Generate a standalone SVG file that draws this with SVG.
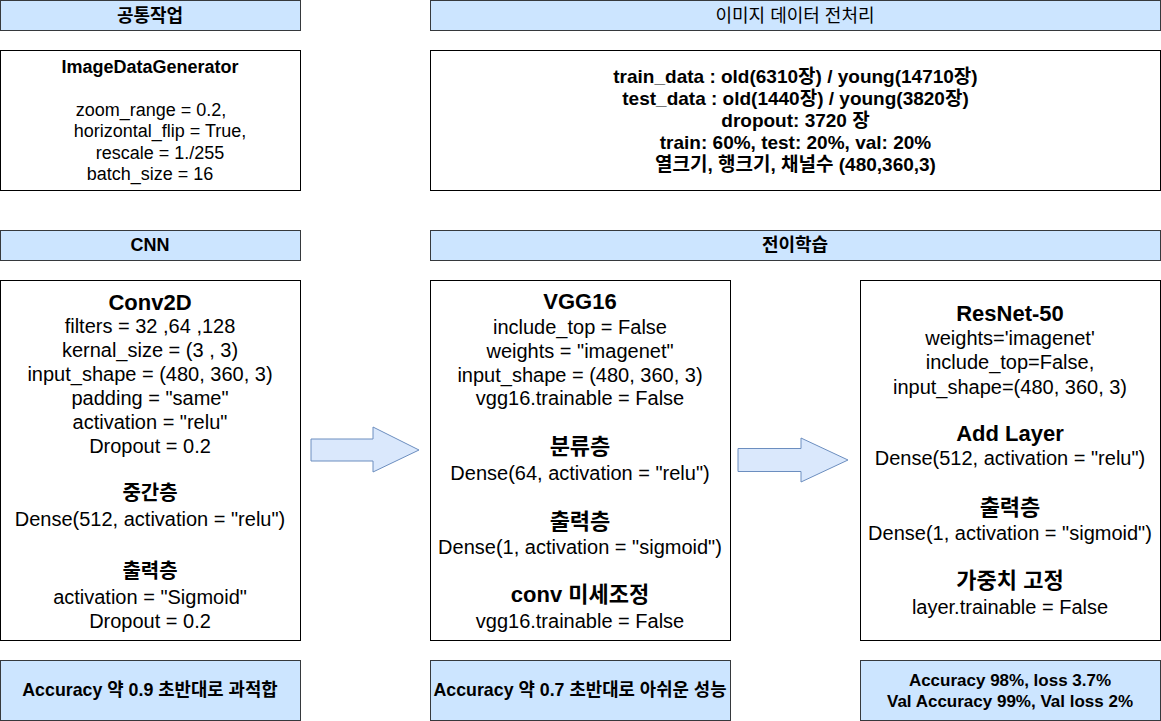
<svg xmlns="http://www.w3.org/2000/svg" width="1161" height="721" viewBox="0 0 1161 721">
<style>
  .hdr { fill: #cce5ff; stroke: #36393d; stroke-width: 1; }
  .box { fill: #ffffff; stroke: #000000; stroke-width: 1; }
  .arrow { fill: #dae8fc; stroke: #6c8ebf; stroke-width: 1; }
  text { font-family: "Liberation Sans", Arial, "Noto Sans CJK KR", sans-serif; text-anchor: middle; dominant-baseline: central; fill: #000000; }
  .b { font-weight: bold; }
  .h { font-size: 18px; }
  .s17 { font-size: 17.8px; }
  .r17 { font-size: 17px; }
  .s18 { font-size: 18px; }
  .s19 { font-size: 19px; }
  .s20 { font-size: 20px; }
  .s22 { font-size: 22px; }
  .k19 { font-size: 20px; }
  .k21 { font-size: 22px; }
</style>
<rect x="0" y="0" width="1161" height="721" fill="#ffffff"/>

<g id="hdr-common">
  <rect class="hdr" x="0.5" y="0.5" width="300" height="30"/>
  <text class="b h" x="150" y="16">공통작업</text>
</g>
<g id="hdr-preprocess">
  <rect class="hdr" x="430.5" y="0.5" width="730" height="30"/>
  <text class="s18" x="795" y="16">이미지 데이터 전처리</text>
</g>

<g id="imagedatagenerator">
  <rect class="box" x="0.5" y="50.5" width="300" height="140"/>
  <text class="b s18" x="150" y="66.5">ImageDataGenerator</text>
  <text class="s18" x="151" y="109.5">zoom_range = 0.2,</text>
  <text class="s18" x="160" y="131">horizontal_flip = True,</text>
  <text class="s18" x="160" y="152.5">rescale = 1./255</text>
  <text class="s18" x="150" y="174">batch_size = 16</text>
</g>

<g id="data">
  <rect class="box" x="430.5" y="50.5" width="730" height="140"/>
  <text class="b s19" x="795.5" y="76">train_data : old(6310장) / young(14710장)</text>
  <text class="b s19" x="795.5" y="98">test_data : old(1440장) / young(3820장)</text>
  <text class="b s19" x="795.5" y="120">dropout: 3720 장</text>
  <text class="b s19" x="795.5" y="142">train: 60%, test: 20%, val: 20%</text>
  <text class="b s19" x="795.5" y="164">열크기, 행크기, 채널수 (480,360,3)</text>
</g>

<g id="hdr-cnn">
  <rect class="hdr" x="0.5" y="230.5" width="300" height="30"/>
  <text class="b h" x="150" y="245">CNN</text>
</g>
<g id="hdr-transfer">
  <rect class="hdr" x="430.5" y="230.5" width="730" height="30"/>
  <text class="b h" x="795" y="245">전이학습</text>
</g>

<g id="cnn">
  <rect class="box" x="0.5" y="280.5" width="300" height="360"/>
  <text class="b s22" x="150" y="302">Conv2D</text>
  <text class="s20" x="150" y="326">filters = 32 ,64 ,128</text>
  <text class="s20" x="150" y="349.5">kernal_size = (3 , 3)</text>
  <text class="s20" x="150" y="373.5">input_shape = (480, 360, 3)</text>
  <text class="s20" x="150" y="397.5">padding = "same"</text>
  <text class="s20" x="150" y="421.5">activation = "relu"</text>
  <text class="s20" x="150" y="445.5">Dropout = 0.2</text>
  <text class="b k19" x="150" y="493">중간층</text>
  <text class="s20" x="150" y="519">Dense(512, activation = "relu")</text>
  <text class="b k19" x="150" y="571">출력층</text>
  <text class="s20" x="150" y="597">activation = "Sigmoid"</text>
  <text class="s20" x="150" y="621">Dropout = 0.2</text>
</g>

<g id="vgg16">
  <rect class="box" x="430.5" y="280.5" width="300" height="360"/>
  <text class="b s22" x="580" y="301">VGG16</text>
  <text class="s20" x="580" y="326.5">include_top = False</text>
  <text class="s20" x="580" y="350.5">weights = "imagenet"</text>
  <text class="s20" x="580" y="374.5">input_shape = (480, 360, 3)</text>
  <text class="s20" x="580" y="398">vgg16.trainable = False</text>
  <text class="b k21" x="580" y="446">분류층</text>
  <text class="s20" x="580" y="472.5">Dense(64, activation = "relu")</text>
  <text class="b k21" x="580" y="521">출력층</text>
  <text class="s20" x="580" y="547">Dense(1, activation = "sigmoid")</text>
  <text class="b s22" x="580" y="594.5">conv 미세조정</text>
  <text class="s20" x="580" y="620.5">vgg16.trainable = False</text>
</g>

<g id="resnet50">
  <rect class="box" x="860.5" y="280.5" width="300" height="360"/>
  <text class="b s22" x="1010" y="313.5">ResNet-50</text>
  <text class="s20" x="1010" y="337.5">weights='imagenet'</text>
  <text class="s20" x="1010" y="362">include_top=False,</text>
  <text class="s20" x="1010" y="386.5">input_shape=(480, 360, 3)</text>
  <text class="b s22" x="1010" y="433">Add Layer</text>
  <text class="s20" x="1010" y="458">Dense(512, activation = "relu")</text>
  <text class="b k21" x="1010" y="507">출력층</text>
  <text class="s20" x="1010" y="533">Dense(1, activation = "sigmoid")</text>
  <text class="b k21" x="1010" y="580">가중치 고정</text>
  <text class="s20" x="1010" y="606.5">layer.trainable = False</text>
</g>

<g id="result-cnn">
  <rect class="hdr" x="0.5" y="660.5" width="300" height="60"/>
  <text class="b s17" x="150" y="689.5">Accuracy 약 0.9 초반대로 과적합</text>
</g>
<g id="result-vgg16">
  <rect class="hdr" x="430.5" y="660.5" width="300" height="60"/>
  <text class="b s17" x="580" y="689.5">Accuracy 약 0.7 초반대로 아쉬운 성능</text>
</g>
<g id="result-resnet50">
  <rect class="hdr" x="860.5" y="660.5" width="300" height="60"/>
  <text class="b r17" x="1010" y="680.5">Accuracy 98%, loss 3.7%</text>
  <text class="b r17" x="1010" y="701.5">Val Accuracy 99%, Val loss 2%</text>
</g>

<g id="connectors">
  <polygon class="arrow" points="311,439 373,439 373,427 419,450 373,472 373,461 311,461"/>
  <polygon class="arrow" points="738,448.5 801,448.5 801,438 848,460 801,482 801,471.5 738,471.5"/>
</g>
</svg>
